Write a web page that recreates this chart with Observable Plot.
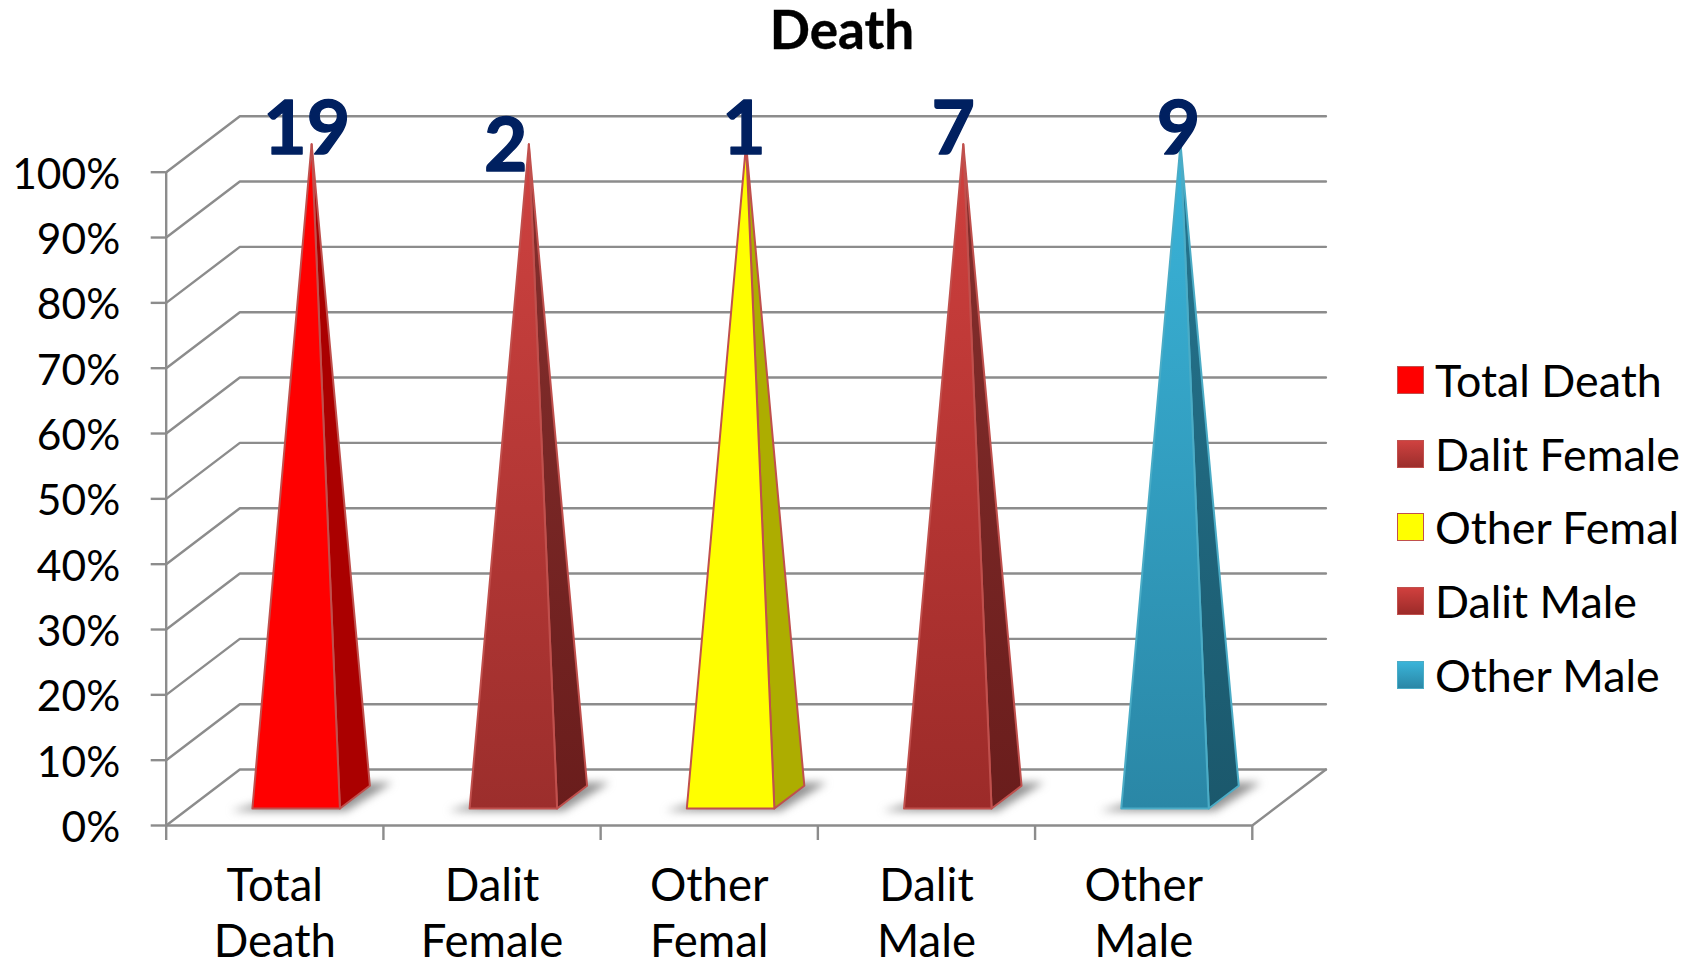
<!DOCTYPE html>
<html><head><meta charset="utf-8">
<script src="https://cdn.jsdelivr.net/npm/d3@7"></script>
<script src="https://cdn.jsdelivr.net/npm/@observablehq/plot@0.6"></script>
<style>
html,body{margin:0;padding:0;background:#fff;width:1698px;height:965px;overflow:hidden;font-family:Lato,sans-serif;color:#000}
#wrap{position:relative;width:1698px;height:965px}
#title{height:60px;line-height:57px;width:1684px;text-align:center;font-size:53px;font-weight:700;-webkit-text-stroke:.4px #000}
#legend{position:absolute;left:1397px;top:343px}
.item{display:flex;align-items:center;height:73.8px;font-size:44.8px;white-space:nowrap}
.sw{width:25px;height:26px;margin-right:11px;border:1.5px solid #c0504d;flex:none}
</style></head><body>
<div id="wrap"><div id="title">Death</div><div id="chart"></div><div id="legend"></div></div>
<script>
const categories = ["Total\nDeath", "Dalit\nFemale", "Other\nFemal", "Dalit\nMale", "Other\nMale"];
const seriesNames = ["Total Death", "Dalit Female", "Other Femal", "Dalit Male", "Other Male"];
const counts = [19, 2, 1, 7, 9];
const shares = [100, 100, 100, 100, 100];
const percentTicks = [0, 10, 20, 30, 40, 50, 60, 70, 80, 90, 100];

// Styling per series
const faceTop = ["#ff0000", "#cf4240", "#ffff00", "#d0403e", "#3ab4d9"];
const faceBottom = ["#ff0000", "#9c2e2c", "#ffff00", "#9c2b29", "#2a87a6"];
const sideTop = ["#aa0000", "#86302e", "#adad00", "#86302e", "#257690"];
const sideBottom = ["#aa0000", "#6a1d1c", "#adad00", "#6a1d1c", "#1b586c"];
const edge = ["#c0504d", "#c0504d", "#c0504d", "#c0504d", "#4bacc6"];
const labelDx = [-5, -23, -2, -10, -2];
const labelDy = [0, 17, 0, 0, 0];

// Oblique projection of the 3-D chart box onto the x / y scales
const depthX = 0.339, depthY = 8.57;
const P = (x, d, v) => ({x: x + d * depthX, y: v + d * depthY});
const u0 = 0.294, u1 = 0.697, d0 = 0.303, d1 = 0.71;

const grayC = "#8c8c8c";
const lineW = 2.4;
const gridMarks = percentTicks.map(v => Plot.line(
  [P(0, 0, v), P(0, 1, v), P(categories.length, 1, v)],
  {x: "x", y: "y", stroke: grayC, strokeWidth: lineW, curve: "linear"}));

const floorMark = Plot.line(
  [P(0, 0, 0), P(categories.length, 0, 0), P(categories.length, 1, 0)],
  {x: "x", y: "y", stroke: grayC, strokeWidth: lineW});

const shadows = shares.map((_, i) => Plot.line(
  [P(i + .21, .26, 0), P(i + .74, .26, 0), P(i + .78, .77, 0), P(i + .5, .77, 0), P(i + .21, .26, 0)],
  {x: "x", y: "y", fill: "#6f6f6f", fillOpacity: .75, stroke: "none", imageFilter: "blur(4px)"}));

const pyramids = shares.flatMap((v, i) => {
  const apex = P(i + 0.5, 0.5, v);
  return [
    Plot.line([P(i + u1, d0, 0), P(i + u1, d1, 0), apex, P(i + u1, d0, 0)],
      {x: "x", y: "y", fill: `url(#side${i})`, stroke: edge[i], strokeWidth: 2, strokeLinejoin: "round"}),
    Plot.line([P(i + u0, d0, 0), P(i + u1, d0, 0), apex, P(i + u0, d0, 0)],
      {x: "x", y: "y", fill: `url(#face${i})`, stroke: edge[i], strokeWidth: 2, strokeLinejoin: "round"})
  ];
});

const defs = () => {
  const d = d3.create("svg:defs");
  const grad = (id, a, b) => {
    const g = d.append("linearGradient").attr("id", id).attr("x1", 0).attr("x2", 0).attr("y1", 0).attr("y2", 1);
    g.append("stop").attr("offset", "0%").attr("stop-color", a);
    g.append("stop").attr("offset", "100%").attr("stop-color", b);
  };
  shares.forEach((_, i) => { grad(`face${i}`, faceTop[i], faceBottom[i]); grad(`side${i}`, sideTop[i], sideBottom[i]); });
  return d.node();
};

const tickRows = d3.range(categories.length + 1);
const catRows = categories.map((c, i) => ({x: i + .5, c}));
const countRows = counts.map((c, i) => ({...P(i + .5, .5, shares[i]), c, i}));

const fontStack = "Lato, sans-serif";
const chart = Plot.plot({
  width: 1380, height: 905,
  marginLeft: 165.7, marginRight: 128.2, marginTop: 111.7, marginBottom: 140,
  x: {type: "linear", domain: [0, categories.length]},
  y: {type: "linear", domain: [0, 100]},
  style: {background: "white", overflow: "visible", fontFamily: fontStack},
  marks: [
    defs,
    ...gridMarks,
    floorMark,
    Plot.ruleX([0], {y1: 0, y2: 100, stroke: grayC, strokeWidth: lineW}),
    Plot.axisY({ticks: percentTicks, tickSize: 15, text: null, label: null, stroke: grayC, strokeWidth: lineW}),
    Plot.axisY({ticks: percentTicks, tickSize: 0, tickPadding: 46, dy: 3, tickFormat: d => d + "%", label: null,
      fill: "#000", fontSize: 42.5, fontFamily: fontStack}),
    Plot.axisX({ticks: tickRows, tickSize: 15, tickFormat: () => "", label: null, stroke: grayC, strokeWidth: lineW}),
    ...shadows,
    ...pyramids,
    Plot.text(catRows, {x: "x", y: () => -13.1, text: "c", fontSize: 45.5, lineHeight: 1.22, fill: "#000", lineAnchor: "middle", fontFamily: fontStack}),
    ...countRows.map(r => Plot.text([r], {x: "x", y: "y", text: "c", dx: labelDx[r.i], dy: labelDy[r.i] - 14,
      fontSize: 75, fontWeight: 700, fill: "#002060", stroke: "#002060", strokeWidth: 1.4, lineAnchor: "middle", fontFamily: fontStack}))
  ]
});
document.getElementById("chart").appendChild(chart);

const legend = d3.select("#legend");
seriesNames.forEach((n, i) => {
  const it = legend.append("div").attr("class", "item");
  it.append("span").attr("class", "sw")
    .style("background", `linear-gradient(${faceTop[i]},${faceBottom[i]})`)
    .style("border-color", edge[i]);
  it.append("span").text(n);
});
</script>
</body></html>
